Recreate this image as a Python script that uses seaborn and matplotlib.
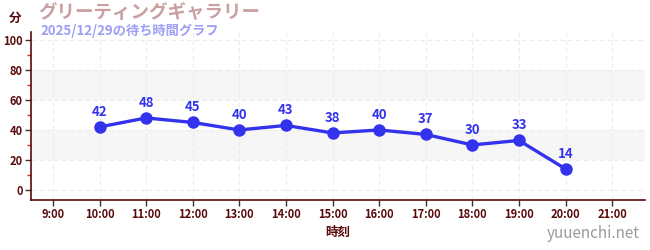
import matplotlib
matplotlib.use("Agg")
import matplotlib.pyplot as plt
import seaborn as sns
import pandas as pd
from matplotlib.ticker import MultipleLocator

hours = [10, 11, 12, 13, 14, 15, 16, 17, 18, 19, 20]
waits = [42, 48, 45, 40, 43, 38, 40, 37, 30, 33, 14]
tick_hours = list(range(9, 22))
tick_labels = [f"{h}:00" for h in tick_hours]
title = "グリーティングギャラリー"
subtitle = "2025/12/29の待ち時間グラフ"

sns.set_theme(style="white")
plt.rcParams['font.family'] = ['Noto Sans CJK JP', 'DejaVu Sans']

df = pd.DataFrame({"hour": hours, "wait": waits})

fig = plt.figure(figsize=(6.5, 2.5), dpi=100)
ax = fig.add_axes([0.0477, 0.2, 0.9443, 0.672])

axis_col = "#5a0a0a"
line_col = "#3333ee"

# bands
for lo, hi in [(20, 40), (60, 80)]:
    ax.axhspan(lo, hi, color="#f6f6f6", zorder=0, lw=0)

sns.lineplot(data=df, x="hour", y="wait", ax=ax, color=line_col, lw=2.4,
             marker="o", markersize=9, markeredgewidth=0, zorder=3)

for h, w in zip(hours, waits):
    ax.annotate(str(w), (h, w), xytext=(0, 6), textcoords="offset points",
                ha="center", va="bottom", color=line_col, fontsize=9.5,
                fontweight="bold")

ax.set_xlim(8.53, 21.7)
ax.set_ylim(-6.7, 105.3)
ax.set_xticks(tick_hours)
ax.set_xticklabels(tick_labels)
ax.set_yticks([0, 20, 40, 60, 80, 100])
ax.yaxis.set_minor_locator(MultipleLocator(10))

ax.grid(True, which="major", color="#ebebeb", linestyle=(0, (4, 3)), lw=0.8)
ax.set_axisbelow(True)

for s in ["top", "right"]:
    ax.spines[s].set_visible(False)
for s in ["left", "bottom"]:
    ax.spines[s].set_color(axis_col)
    ax.spines[s].set_linewidth(1.2)

ax.tick_params(axis="both", which="major", length=4, width=1, color="#333333",
               labelcolor=axis_col, labelsize=8, pad=2)
ax.tick_params(axis="y", which="minor", length=3, width=1, color="#dd2222", left=True)
ax.tick_params(axis="x", bottom=True)
ax.tick_params(axis="y", left=True)
for lab in ax.get_xticklabels() + ax.get_yticklabels():
    lab.set_fontweight("bold")

ax.set_xlabel("時刻", color=axis_col, fontsize=9, fontweight="bold", labelpad=3)
ax.set_ylabel("")

fig.text(15 / 650, 1 - 18 / 250, "分", color=axis_col, fontsize=9,
         fontweight="bold", ha="center", va="center")
fig.text(38 / 650, 1 - 13 / 250, title, color="#c9a0a0", fontsize=13.3,
         fontweight="bold", ha="left", va="center")
fig.text(40 / 650, 1 - 31 / 250, subtitle, color="#9e9ef5", fontsize=9.5,
         fontweight="bold", ha="left", va="center")
fig.text(0.985, 1 - 234 / 250, "yuuenchi.net", color="#9a9a9a", fontsize=11,
         ha="right", va="center")

fig.savefig("out.png", dpi=100)
